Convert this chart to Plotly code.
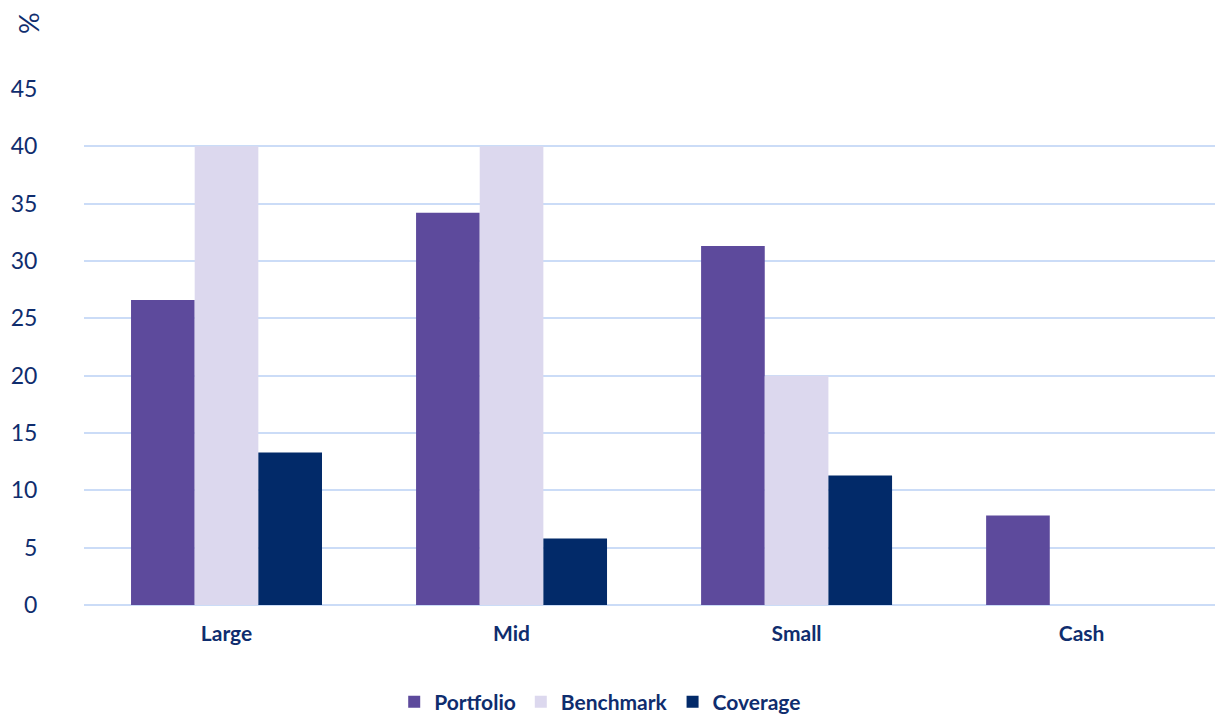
import plotly.graph_objects as go

categories = ["Large", "Mid", "Small", "Cash"]
portfolio = [26.6, 34.2, 31.3, 7.8]
benchmark = [40.0, 40.0, 20.0, 0.0]
coverage = [13.3, 5.8, 11.3, 0.0]
y_ticks = [0, 5, 10, 15, 20, 25, 30, 35, 40, 45]

TEXT = "#0f2d6e"
GRID = "#cbdcf7"
FONT = "Lato"

W, H = 1215, 717
L, R, T, B = 84, 0, 89, 112

fig = go.Figure()
fig.add_trace(go.Bar(name="Portfolio", x=categories, y=portfolio, marker_color="#5d4a9c", marker_line_width=0))
fig.add_trace(go.Bar(name="Benchmark", x=categories, y=benchmark, marker_color="#dcd8ee", marker_line_width=0))
fig.add_trace(go.Bar(name="Coverage", x=categories, y=coverage, marker_color="#022a69", marker_line_width=0))

fig.update_layout(
    width=W, height=H,
    margin=dict(l=L, r=R, t=T, b=B, autoexpand=False),
    barmode="group", bargap=0.33, bargroupgap=0,
    plot_bgcolor="white", paper_bgcolor="white",
    font=dict(family=FONT, color=TEXT),
    showlegend=True,
    legend=dict(orientation="h", x=0.494, xref="container", xanchor="center",
                y=15 / H, yref="container", yanchor="middle",
                font=dict(family=FONT, size=21, color=TEXT, weight="bold"),
                itemwidth=30, tracegroupgap=0),
    xaxis=dict(range=[-0.5, 3.468], showgrid=False, zeroline=False, showline=False,
               ticks="outside", ticklen=10, tickcolor="rgba(0,0,0,0)",
               tickfont=dict(family=FONT, size=21, color=TEXT, weight="bold")),
    yaxis=dict(range=[0, 45], tickvals=y_ticks, showgrid=True, gridcolor=GRID, gridwidth=2,
               zeroline=True, zerolinecolor=GRID, zerolinewidth=2, showline=False,
               ticks="outside", ticklen=41, tickcolor="rgba(0,0,0,0)",
               tickfont=dict(family=FONT, size=23, color=TEXT)),
)
fig.add_annotation(text="%", x=(28 - L) / (W - L - R), y=(H - B - 23) / (H - B - T),
                   xref="paper", yref="paper", showarrow=False, textangle=-90,
                   xanchor="center", yanchor="middle",
                   font=dict(family=FONT, size=27, color=TEXT))

fig.write_html("out.html")
